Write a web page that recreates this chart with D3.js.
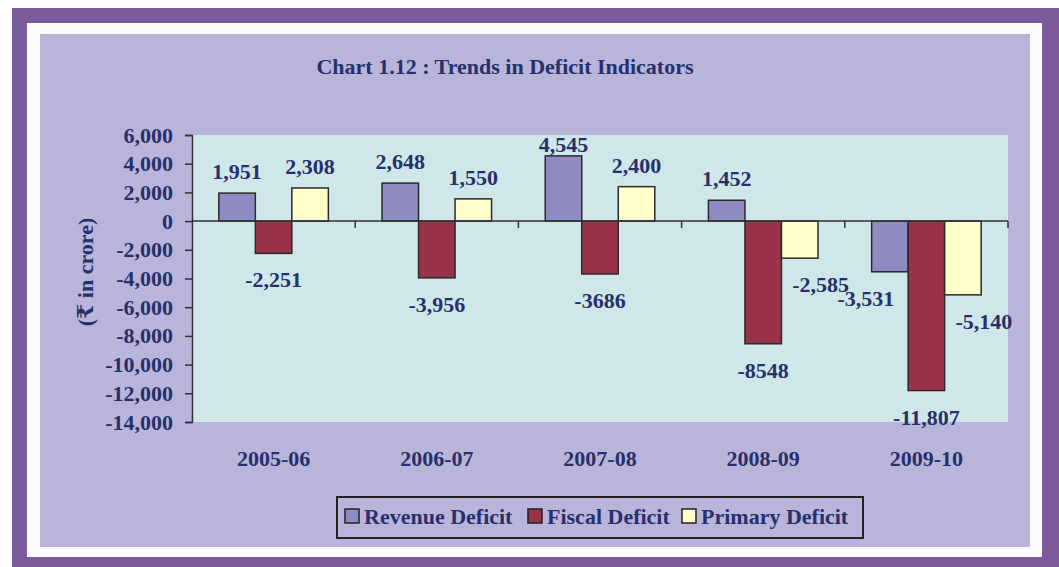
<!DOCTYPE html>
<html>
<head>
<meta charset="utf-8">
<script src="https://cdn.jsdelivr.net/npm/d3@7"></script>
<style>
  body { margin: 0; background: #ffffff; }
  text { font-family: "Liberation Serif", "Times New Roman", "DejaVu Serif", serif; font-weight: bold; }
</style>
</head>
<body>
<div id="chart-area"></div>
<script>
// data
var years = ["2005-06", "2006-07", "2007-08", "2008-09", "2009-10"];
var seriesNames = ["Revenue Deficit", "Fiscal Deficit", "Primary Deficit"];
var revenueDeficit = [1951, 2648, 4545, 1452, -3531];
var fiscalDeficit = [-2251, -3956, -3686, -8548, -11807];
var primaryDeficit = [2308, 1550, 2400, -2585, -5140];
// labels as printed on the chart (some have no thousands comma)
var revenueLabels = ["1,951", "2,648", "4,545", "1,452", "-3,531"];
var fiscalLabels = ["-2,251", "-3,956", "-3686", "-8548", "-11,807"];
var primaryLabels = ["2,308", "1,550", "2,400", "-2,585", "-5,140"];
var yTicks = [6000, 4000, 2000, 0, -2000, -4000, -6000, -8000, -10000, -12000, -14000];

var colors = ["#8e8bc3", "#993349", "#ffffcc"];
var textColor = "#27306c";

var W = 1059, H = 567;
var margin = {top: 135, right: 51, bottom: 145, left: 192};
var width = W - margin.left - margin.right;
var height = H - margin.top - margin.bottom;

var svg = d3.select("#chart-area")
  .append("svg")
    .attr("width", W)
    .attr("height", H);

// frame: purple band, white gap, lavender panel
svg.append("rect").attr("x", 12).attr("y", 8).attr("width", 1047).attr("height", 559).attr("fill", "#7b5a9c");
svg.append("rect").attr("x", 27).attr("y", 23).attr("width", 1015).attr("height", 534).attr("fill", "#fbfbfd");
svg.append("rect").attr("x", 40).attr("y", 34).attr("width", 990).attr("height", 513).attr("fill", "#b9b5da");

svg.append("text")
  .attr("x", 505)
  .attr("y", 74)
  .attr("text-anchor", "middle")
  .attr("font-size", "22px")
  .attr("fill", textColor)
  .text("Chart 1.12 : Trends in Deficit Indicators");

var g = svg.append("g")
  .attr("transform", "translate(" + margin.left + ", " + margin.top + ")");

g.append("rect")
  .attr("width", width)
  .attr("height", height)
  .attr("fill", "#cfe7e9");

var x0 = d3.scaleBand().domain(years).range([0, width]).padding(0);
var x1 = d3.scaleBand().domain(seriesNames).range([0, x0.bandwidth()]).paddingInner(0).paddingOuter(0.735);
var y = d3.scaleLinear().domain([-14000, 6000]).range([height, 0]);

var table = years.map(function(yr, i) {
  return [
    {year: yr, s: seriesNames[0], idx: 0, v: revenueDeficit[i], label: revenueLabels[i], fisc: fiscalDeficit[i]},
    {year: yr, s: seriesNames[1], idx: 1, v: fiscalDeficit[i], label: fiscalLabels[i], fisc: fiscalDeficit[i]},
    {year: yr, s: seriesNames[2], idx: 2, v: primaryDeficit[i], label: primaryLabels[i], fisc: fiscalDeficit[i]}
  ];
});
var flat = [].concat.apply([], table);

// y axis (plain hyphen for negatives, like the original)
var fmt = d3.format(",");
var yAxis = d3.axisLeft(y).tickValues(yTicks)
  .tickFormat(function(d) { return fmt(d).replace("\u2212", "-"); })
  .tickSize(7).tickPadding(12);
var yAxisGroup = g.append("g").call(yAxis);
yAxisGroup.select(".domain").attr("stroke", "#333").attr("stroke-width", 1.5);
yAxisGroup.selectAll(".tick line").attr("stroke", "#333").attr("stroke-width", 1.5);
yAxisGroup.selectAll("text")
  .attr("font-size", "22px")
  .attr("fill", textColor);

g.append("text")
  .attr("transform", "rotate(-90)")
  .attr("x", -(272 - margin.top))
  .attr("y", 85 - margin.left)
  .attr("dy", "0.35em")
  .attr("text-anchor", "middle")
  .attr("font-size", "22px")
  .attr("fill", textColor)
  .text("(₹ in crore)");

// bars
g.selectAll("rect.bar")
  .data(flat)
  .enter().append("rect")
    .attr("class", "bar")
    .attr("x", function(d) { return x0(d.year) + x1(d.s); })
    .attr("y", function(d) { return y(Math.max(0, d.v)); })
    .attr("width", x1.bandwidth())
    .attr("height", function(d) { return Math.abs(y(d.v) - y(0)); })
    .attr("fill", function(d) { return colors[d.idx]; })
    .attr("stroke", "#2a2a2a")
    .attr("stroke-width", 1.5);

// x axis along zero, ticks between categories
var xTickPos = d3.range(years.length + 1).map(function(i) { return i * x0.step(); });
var xAxisGroup = g.append("g").attr("transform", "translate(0, " + y(0) + ")");
xAxisGroup.append("line")
  .attr("x1", 0).attr("x2", width)
  .attr("stroke", "#333").attr("stroke-width", 1.5);
xAxisGroup.selectAll("line.tk")
  .data(xTickPos.slice(1))
  .enter().append("line")
    .attr("class", "tk")
    .attr("x1", function(d) { return d; })
    .attr("x2", function(d) { return d; })
    .attr("y1", 0).attr("y2", 7)
    .attr("stroke", "#333").attr("stroke-width", 1.5);

g.selectAll("text.cat")
  .data(years)
  .enter().append("text")
    .attr("class", "cat")
    .attr("x", function(d) { return x0(d) + x0.bandwidth() / 2; })
    .attr("y", height + 44)
    .attr("text-anchor", "middle")
    .attr("font-size", "22px")
    .attr("fill", textColor)
    .text(function(d) { return d; });

// data labels; side labels move outward when the fiscal bar beside them runs deeper
g.selectAll("text.val")
  .data(flat)
  .enter().append("text")
    .attr("class", "val")
    .attr("x", function(d) {
      var cx = x0(d.year) + x1(d.s) + x1.bandwidth() / 2;
      if (d.v < 0 && d.idx !== 1 && d.fisc < d.v) cx += d.idx === 0 ? -24 : 21;
      return cx;
    })
    .attr("y", function(d) {
      return d.v >= 0 ? Math.max(y(d.v) - 14, 17) : y(d.v) + 34;
    })
    .attr("text-anchor", "middle")
    .attr("font-size", "22px")
    .attr("fill", textColor)
    .text(function(d) { return d.label; });

// legend
var legend = svg.append("g").attr("transform", "translate(337, 497)");
legend.append("rect")
  .attr("width", 526).attr("height", 41)
  .attr("fill", "none").attr("stroke", "#222").attr("stroke-width", 2);
var legX = [8, 191, 345];
var items = legend.selectAll("g.item")
  .data(seriesNames)
  .enter().append("g")
    .attr("class", "item")
    .attr("transform", function(d, i) { return "translate(" + legX[i] + ", 0)"; });
items.append("rect")
  .attr("y", 12).attr("width", 14).attr("height", 14)
  .attr("fill", function(d, i) { return colors[i]; })
  .attr("stroke", "#222").attr("stroke-width", 1.5);
items.append("text")
  .attr("x", 19).attr("y", 27)
  .attr("font-size", "22px")
  .attr("fill", textColor)
  .text(function(d) { return d; });
</script>
</body>
</html>
